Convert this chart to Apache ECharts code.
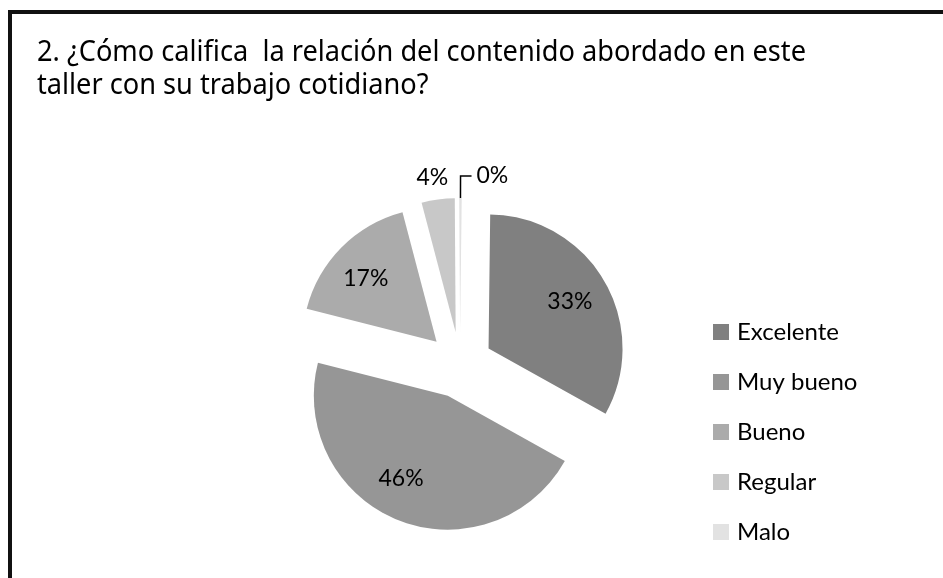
<!DOCTYPE html>
<html>
<head>
<meta charset="utf-8">
<script src="https://cdn.jsdelivr.net/npm/echarts@6/dist/echarts.min.js"></script>
<style>
html,body{margin:0;padding:0;background:#fff;}
#frame{position:absolute;left:8px;top:10px;width:935px;height:568px;border-left:4px solid #111;border-top:4px solid #111;box-sizing:border-box;}
#chart{position:absolute;left:0;top:0;width:943px;height:578px;}
</style>
</head>
<body>
<div id="frame"></div>
<div id="chart"></div>
<script>
const titleLines = ['2. ¿Cómo califica  la relación del contenido abordado en este', 'taller con su trabajo cotidiano?'];
const categories = ['Excelente', 'Muy bueno', 'Bueno', 'Regular', 'Malo'];
const values = [33, 46, 17, 4, 0.3];
const colors = ['#808080', '#969696', '#ababab', '#c8c8c8', '#e2e2e2'];
const insideLabel = [true, true, true, false, false];

const chart = echarts.init(document.getElementById('chart'));
const total = values.reduce((a, b) => a + b, 0);
const pct = v => Math.round(v / total * 100) + '%';

// title font: condensed look via horizontal scaling
const titleFont = '29px "Noto Sans"';
const ctx = document.createElement('canvas').getContext('2d');
ctx.font = titleFont;
const titleScale = 769 / ctx.measureText(titleLines[0]).width;

const mainData = categories.map((name, i) => ({
  name, value: values[i], selected: true,
  itemStyle: { color: colors[i] },
  label: { show: !insideLabel[i] },
  labelLine: { show: i === 4 }
}));
mainData[3].label.distanceToLabelLine = -24;
mainData[4].label.padding = [0, 0, 12, 0];

const labelNudges = [[0, 0], [-12, -4], [-4, 3], [0, 0], [0, 0]];
const labelData = categories.map((name, i) => ({
  name, value: values[i], selected: true,
  itemStyle: { color: 'rgba(0,0,0,0)' },
  label: { show: insideLabel[i] }
}));

chart.setOption({
  animation: false,
  graphic: titleLines.map((t, i) => ({
    type: 'text', x: 37, y: 53 + i * 32.5, scaleX: titleScale, silent: true,
    style: { text: t, font: titleFont, fill: '#000', verticalAlign: 'middle', align: 'left' }
  })),
  legend: {
    orient: 'vertical', left: 708, top: 315,
    itemWidth: 16, itemHeight: 16, itemGap: 26,
    icon: 'rect',
    data: categories.map((name, i) => ({ name, itemStyle: { color: colors[i] } })),
    textStyle: { fontFamily: 'Lato', fontSize: 24, color: '#000', padding: [0, 0, 0, 3] },
    selectedMode: false
  },
  series: [
    {
      type: 'pie',
      center: [460, 365], radius: 134,
      startAngle: 89.3, clockwise: true,
      selectedMode: 'multiple', selectedOffset: 33,
      avoidLabelOverlap: false,
      silent: true,
      label: {
        position: 'outside', fontFamily: 'Lato', fontSize: 23, color: '#000',
        formatter: p => pct(p.value)
      },
      labelLine: { length: 22, length2: 11, lineStyle: { color: '#000', width: 1.5 } },
      data: mainData
    },
    {
      type: 'pie',
      center: [460, 365], radius: 182,
      startAngle: 89.3, clockwise: true,
      selectedMode: 'multiple', selectedOffset: 33,
      avoidLabelOverlap: false,
      silent: true,
      legendHoverLink: false,
      label: {
        position: 'inside', fontFamily: 'Lato', fontSize: 23, color: '#000',
        formatter: p => pct(p.value)
      },
      labelLayout: p => ({ dx: labelNudges[p.dataIndex][0], dy: labelNudges[p.dataIndex][1] }),
      labelLine: { show: false },
      data: labelData
    }
  ]
});
</script>
</body>
</html>
